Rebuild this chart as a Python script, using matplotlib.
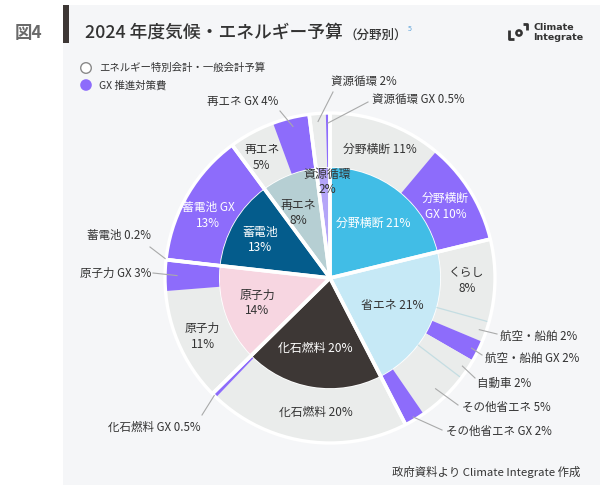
import matplotlib
matplotlib.use("Agg")
import matplotlib.pyplot as plt
import numpy as np
from matplotlib.patches import Rectangle, Circle

plt.rcParams['font.family'] = ['Noto Sans CJK JP', 'DejaVu Sans']

# ---------------- data ----------------
inner_labels = ["分野横断", "省エネ", "化石燃料", "原子力", "蓄電池", "再エネ", "資源循環"]
inner_values = [21, 21, 20, 14, 13, 8, 2]
inner_colors = ["#41bde6", "#c6e9f6", "#3d3735", "#f7d6e1", "#045c8c", "#b6cfd3", "#b4a5f8"]
inner_text_colors = ["white", "#333333", "white", "#333333", "white", "#333333", "#333333"]

outer_labels = ["分野横断", "分野横断 GX", "くらし", "航空・船舶", "航空・船舶 GX", "自動車",
                "その他省エネ", "その他省エネ GX", "化石燃料", "化石燃料 GX", "原子力", "原子力 GX",
                "蓄電池", "蓄電池 GX", "再エネ", "再エネ GX", "資源循環", "資源循環 GX"]
outer_values = [11, 10, 8, 2, 2, 2, 5, 2, 20, 0.5, 11, 3, 0.2, 13, 5, 4, 2, 0.5]
outer_parent = [0, 0, 1, 1, 1, 1, 1, 1, 2, 2, 3, 3, 4, 4, 5, 5, 6, 6]
outer_is_gx = [False, True, False, False, True, False, False, True, False, True,
               False, True, False, True, False, True, False, True]
outer_value_text = ["11%", "10%", "8%", "2%", "2%", "2%", "5%", "2%", "20%", "0.5%",
                    "11%", "3%", "0.2%", "13%", "5%", "4%", "2%", "0.5%"]

GREY = "#eaeceb"
PURPLE = "#8d6cfb"
DARK = "#333333"

# ---------------- figure ----------------
W, H = 600, 487
fig = plt.figure(figsize=(W / 100, H / 100), dpi=100)
fig.patch.set_facecolor("white")
ax = fig.add_axes([0, 0, 1, 1])
ax.set_axis_off()

def Y(y):
    return H - y

# panel background
ax.add_patch(Rectangle((63, Y(485)), W - 63, 480, facecolor="#f5f6f8", edgecolor="none", zorder=0))
ax.add_patch(Rectangle((63, Y(43)), 6, 38, facecolor="#3d3735", edgecolor="none", zorder=1))

ax.text(15, Y(33), "図4", fontsize=12.5, fontweight="bold", color="#6a6a6a", va="center", ha="left")
title = ax.text(85, Y(33), "2024 年度気候・エネルギー予算", fontsize=12.8, fontweight="medium",
                color="#333333", va="center", ha="left")
sub = ax.annotate("（分野別）", xy=(1, 0.40), xycoords=title, xytext=(1, 0), textcoords="offset points",
                  fontsize=9, fontweight="medium", color="#333333", va="center", ha="left")
ax.annotate("5", xy=(1, 0.95), xycoords=sub, xytext=(0.5, 0), textcoords="offset points",
            fontsize=5, color="#5aa0d8", va="center", ha="left")

# logo
ax.plot([509, 509, 513.5], [Y(30), Y(39), Y(39)], color="#333333", lw=2, solid_capstyle="butt")
ax.add_patch(Circle((519, Y(33)), 2.6, facecolor="none", edgecolor="#333333", lw=1.8))
ax.plot([522.5, 527, 527], [Y(24), Y(24), Y(30)], color="#333333", lw=2, solid_capstyle="butt")
ax.text(533, Y(27), "Climate", fontsize=6.8, fontweight="bold", color="#333333", va="center", ha="left",
        family=["DejaVu Sans"])
ax.text(533, Y(37), "Integrate", fontsize=6.8, fontweight="bold", color="#333333", va="center", ha="left",
        family=["DejaVu Sans"])

# legend
ax.add_patch(Circle((86, Y(68)), 5.3, facecolor="white", edgecolor="#8a8a8a", lw=1))
ax.text(99, Y(68), "エネルギー特別会計・一般会計予算", fontsize=7.5, color="#333333", va="center", ha="left")
ax.add_patch(Circle((86, Y(85)), 5.8, facecolor=PURPLE, edgecolor="none"))
ax.text(99, Y(85), "GX 推進対策費", fontsize=7.5, color="#333333", va="center", ha="left")

# footer
ax.text(580, Y(472), "政府資料より Climate Integrate 作成", fontsize=8.2, color="#333333", va="center", ha="right")

# ---------------- pies ----------------
cx, cy = 330, Y(278)
R_IN, R_OUT = 111, 165

inner_wedges, _ = ax.pie(inner_values, radius=R_IN, center=(cx, cy), startangle=90, counterclock=False,
                         colors=inner_colors, wedgeprops=dict(edgecolor="white", linewidth=1.2))

# scale outer sub-segments so each group fills its parent's share
inner_arr = np.array(inner_values, dtype=float)
outer_arr = np.array(outer_values, dtype=float)
parent = np.array(outer_parent)
group_sum = np.array([outer_arr[parent == k].sum() for k in range(len(inner_values))])
outer_sizes = outer_arr * inner_arr[parent] / group_sum[parent]
outer_colors = [PURPLE if g else GREY for g in outer_is_gx]

outer_wedges, _ = ax.pie(outer_sizes, radius=R_OUT, center=(cx, cy), startangle=90, counterclock=False,
                         colors=outer_colors, wedgeprops=dict(width=R_OUT - R_IN, edgecolor="none"))

def pt(angle_deg, r):
    a = np.deg2rad(angle_deg)
    return cx + r * np.cos(a), cy + r * np.sin(a)

# thin lines between adjacent grey sub-segments
for i in range(len(outer_wedges) - 1):
    if (not outer_is_gx[i]) and (not outer_is_gx[i + 1]) and outer_parent[i] == outer_parent[i + 1]:
        w = outer_wedges[i]
        t = w.theta1  # clockwise: boundary with next is theta1
        x0, y0 = pt(t, R_IN)
        x1, y1 = pt(t, R_OUT)
        ax.plot([x0, x1], [y0, y1], color="#c4dde2", lw=0.9, zorder=3)

# white separators between categories
for w in inner_wedges:
    for t in (w.theta1, w.theta2):
        x1, y1 = pt(t, R_OUT + 1)
        ax.plot([cx, x1], [cy, y1], color="white", lw=2.6, zorder=4, solid_capstyle="butt")
ax.add_patch(Circle((cx, cy), R_OUT, facecolor="none", edgecolor="white", lw=2.4, zorder=4))

def mid(w):
    return 0.5 * (w.theta1 + w.theta2)

# inner labels
inner_label_r = [70, 68, 72, 77, 80, 72, 96]
inner_label_dang = [0, 1, -3, 0, 1.5, 4, -1.8]
inner_label_two_lines = [False, False, False, True, True, True, True]
for i, w in enumerate(inner_wedges):
    x, y = pt(mid(w) + inner_label_dang[i], inner_label_r[i])
    sep = "\n" if inner_label_two_lines[i] else " "
    ax.text(x, y, f"{inner_labels[i]}{sep}{inner_values[i]}%", ha="center", va="center",
            fontsize=8.6, color=inner_text_colors[i], zorder=5, linespacing=1.25)

# labels inside outer ring: idx -> (radius, angle tweak, text with line break, colour)
ring_inside = {
    0: (138, -1, "分野横断 11%", DARK),
    1: (136, 0, "分野横断\nGX 10%", "white"),
    2: (137, 0, "くらし\n8%", DARK),
    8: (135, 2, "化石燃料 20%", DARK),
    10: (140, 0, "原子力\n11%", DARK),
    13: (137, 3, "蓄電池 GX\n13%", "white"),
    14: (138, 1.3, "再エネ\n5%", DARK),
}
for i, (r, dang, txt, col) in ring_inside.items():
    x, y = pt(mid(outer_wedges[i]) + dang, r)
    ax.text(x, y, txt, ha="center", va="center",
            fontsize=8.5, color=col, zorder=5, linespacing=1.3)

# external labels with leader lines: idx -> (start r, line end (x,y), text (x,y), ha)
external = {
    16: (157, (333, 92), (331, 82), "left"),
    17: (155, (368, 102), (372, 100), "left"),
    15: (156, (280, 111), (278, 102), "right"),
    12: (166, (150, 247), (151, 236), "right"),
    11: (153, (153, 273), (151, 273), "right"),
    9: (165, (202, 415), (201, 427), "right"),
    3: (158, (497, 334), (500, 336), "left"),
    4: (158, (482, 355), (485, 358), "left"),
    5: (159, (475, 378), (477, 383), "left"),
    6: (153, (458, 405), (462, 407), "left"),
    7: (162, (442, 430), (446, 431), "left"),
}
for i, (rs, (ex, ey), (tx, ty), ha) in external.items():
    x0, y0 = pt(mid(outer_wedges[i]), rs)
    ax.plot([x0, ex], [y0, Y(ey)], color="#a9aaaa", lw=0.8, zorder=6)
    ax.text(tx, Y(ty), f"{outer_labels[i]} {outer_value_text[i]}", ha=ha, va="center",
            fontsize=8.3, color=DARK, zorder=6)

ax.set_xlim(0, W)
ax.set_ylim(0, H)
ax.set_aspect("equal")

fig.savefig("out.png", dpi=100, facecolor="white")
